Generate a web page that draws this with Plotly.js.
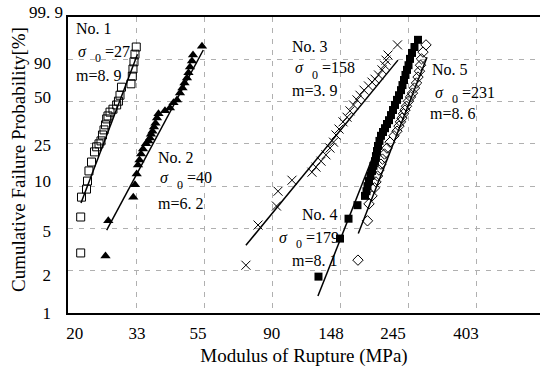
<!DOCTYPE html>
<html>
<head>
<meta charset="utf-8">
<script src="https://cdn.plot.ly/plotly-3.0.1.min.js"></script>
<style>html,body{margin:0;padding:0;background:#fff;}</style>
</head>
<body>
<div id="chart" style="width:540px;height:373px;"></div>
<script>
// ---- Data (strength in MPa, y = ln ln 1/(1-F)) ----
const no1Strength = [33.15, 32.84, 32.60, 32.36, 32.20, 31.89, 29.74, 29.42, 29.09, 28.71, 27.94, 27.34, 26.94, 26.68, 26.45, 26.16, 25.87, 25.59, 25.22, 24.79, 24.40, 23.87, 23.43, 23.18, 23.01, 22.18, 22.05, 22.05];
const no1Weibull  = [1.29, 1.12, 0.94, 0.77, 0.60, 0.42, 0.34, 0.15, 0.01, -0.08, -0.18, -0.25, -0.34, -0.41, -0.55, -0.67, -0.79, -0.93, -1.00, -1.07, -1.19, -1.43, -1.64, -1.88, -2.07, -2.26, -2.73, -3.58];

const no2Strength = [53.69, 50.26, 49.89, 49.16, 48.62, 48.09, 47.22, 46.53, 45.68, 44.69, 43.56, 42.45, 40.92, 39.02, 38.59, 38.17, 37.75, 37.34, 36.93, 36.66, 36.26, 35.60, 34.83, 34.32, 33.94, 33.57, 33.25, 32.84, 32.43, 27.00, 26.45];
const no2Weibull  = [1.31, 1.10, 0.96, 0.82, 0.68, 0.56, 0.44, 0.32, 0.20, 0.04, -0.03, -0.15, -0.22, -0.29, -0.39, -0.51, -0.60, -0.70, -0.77, -0.86, -0.93, -1.00, -1.12, -1.24, -1.38, -1.50, -1.71, -1.97, -2.26, -2.82, -3.65];

const no3Strength = [225.3, 210.2, 207.1, 204.8, 201.1, 196.0, 191.0, 186.9, 182.1, 176.2, 171.1, 167.4, 163.2, 159.0, 155.6, 151.1, 146.7, 143.5, 140.9, 137.3, 133.3, 128.6, 123.9, 120.3, 103.9, 93.8, 92.7, 81.0, 74.1];
const no3Weibull  = [1.34, 1.10, 0.98, 0.86, 0.75, 0.63, 0.53, 0.46, 0.37, 0.27, 0.15, 0.04, -0.08, -0.22, -0.37, -0.48, -0.65, -0.79, -0.96, -1.10, -1.26, -1.41, -1.55, -1.67, -1.86, -2.12, -2.47, -2.92, -3.87];

const no4Strength = [261.9, 255.2, 250.6, 247.0, 244.3, 241.6, 238.9, 236.3, 233.7, 231.2, 227.8, 224.5, 221.2, 218.0, 214.8, 211.7, 208.6, 205.6, 202.6, 199.6, 197.4, 195.3, 193.9, 192.4, 191.0, 188.9, 186.9, 184.8, 182.8, 180.8, 179.5, 177.5, 168.0, 157.3, 147.8, 126.2];
const no4Weibull  = [1.46, 1.29, 1.15, 1.01, 0.86, 0.75, 0.63, 0.51, 0.39, 0.27, 0.15, 0.04, -0.08, -0.20, -0.32, -0.44, -0.53, -0.63, -0.72, -0.81, -0.93, -1.05, -1.17, -1.29, -1.41, -1.52, -1.64, -1.76, -1.88, -2.00, -2.12, -2.23, -2.45, -2.77, -3.24, -4.14];

const no5Strength = [277.7, 271.7, 268.7, 266.8, 264.8, 261.9, 259.1, 255.2, 251.5, 247.9, 244.3, 240.7, 238.1, 235.5, 232.9, 230.3, 227.8, 224.5, 219.6, 213.3, 208.6, 204.8, 201.8, 199.6, 196.7, 194.6, 192.4, 190.3, 186.9, 182.8, 180.8, 168.6];
const no5Weibull  = [1.34, 1.17, 1.01, 0.86, 0.72, 0.58, 0.44, 0.32, 0.20, 0.11, 0.01, -0.11, -0.20, -0.29, -0.39, -0.48, -0.58, -0.70, -0.81, -0.96, -1.10, -1.24, -1.36, -1.48, -1.62, -1.76, -1.90, -2.04, -2.23, -2.42, -2.82, -3.75];

// fitted Weibull lines (end points as drawn)
const fit1Strength = [22.10, 33.45];  const fit1Weibull = [-2.40, 1.12];
const fit2Strength = [26.68, 54.20];  const fit2Weibull = [-3.04, 1.22];
const fit3Strength = [74.1, 226.1];   const fit3Weibull = [-3.40, 0.98];
const fit4Strength = [125.7, 256.2];  const fit4Weibull = [-4.60, 1.22];
const fit5Strength = [169.0, 279.8];  const fit5Weibull = [-3.12, 1.05];

const seriesNames = ['No. 1', 'No. 2', 'No. 3', 'No. 4', 'No. 5'];
const sigma0Values = ['27', '40', '158', '179', '231'];
const mValues = ['8. 9', '6. 2', '3. 9', '8. 1', '8. 6'];

const xGridVals = [20.09, 33.12, 54.60, 90.02, 148.41, 244.69, 403.43];
const xTickText = ['20', '33', '55', '90', '148', '245', '403'];
const yGridVals = [-5, -4, -3, -2, -1, 0, 1, 2];
const yTickText = ['1', '2', '5', '10', '25', '50', '90'];
const yTopLabel = '99. 9';
const xRange = [20.09, 641.0];
const yRange = [-5, 2];

// ---- Traces ----
const markerLine = {color: '#000', width: 1};
const traces = [
  {x: no1Strength, y: no1Weibull, mode: 'markers', type: 'scatter', name: seriesNames[0],
   marker: {symbol: 'square-open', size: 8, color: '#000', line: markerLine}},
  {x: no2Strength, y: no2Weibull, mode: 'markers', type: 'scatter', name: seriesNames[1],
   marker: {symbol: 'triangle-up', size: 9, color: '#000'}},
  {x: no3Strength, y: no3Weibull, mode: 'markers', type: 'scatter', name: seriesNames[2],
   marker: {symbol: 'x-thin', size: 9, color: '#000', line: {color: '#000', width: 1}}},
  {x: no4Strength, y: no4Weibull, mode: 'markers', type: 'scatter', name: seriesNames[3],
   marker: {symbol: 'square', size: 8, color: '#000'}},
  {x: no5Strength, y: no5Weibull, mode: 'markers', type: 'scatter', name: seriesNames[4],
   marker: {symbol: 'diamond-open', size: 8, color: '#000', line: markerLine}},
];
const fits = [[fit1Strength, fit1Weibull], [fit2Strength, fit2Weibull], [fit3Strength, fit3Weibull],
              [fit4Strength, fit4Weibull], [fit5Strength, fit5Weibull]];
fits.forEach(function (f, i) {
  traces.push({x: f[0], y: f[1], mode: 'lines', type: 'scatter', name: seriesNames[i] + ' fit',
               line: {color: '#000', width: 1.5}});
});
// empty trace that activates the label axes
traces.push({x: [], y: [], xaxis: 'x2', yaxis: 'y2', mode: 'markers', type: 'scatter', hoverinfo: 'skip'});

// ---- Annotations ----
const L = 68, T = 17, W = 472, H = 296;
function ann(text, px, py, anchor, size, style) {
  return {text: text, xref: 'paper', yref: 'paper', x: (px - L) / W, y: (T + H - py) / H,
          xanchor: anchor || 'left', yanchor: 'middle', showarrow: false,
          font: {family: 'Liberation Serif, serif', size: size || 16, color: '#000', style: style || 'normal'}};
}
const labelPos = [
  [[74, 28], [76, 51], [74, 75]],
  [[156, 157], [158, 178], [156, 203]],
  [[290, 47], [293, 68], [290, 90]],
  [[300, 215], [277, 237], [290, 260]],
  [[430, 69], [433, 92], [428, 113]]
];
const annotations = [];
seriesNames.forEach(function (nm, i) {
  const p = labelPos[i];
  annotations.push(ann(nm, p[0][0], p[0][1]));
  annotations.push(ann('σ', p[1][0], p[1][1], 'left', 16, 'italic'));
  annotations.push(ann('0', p[1][0] + 22, p[1][1] + 7, 'center', 12));
  annotations.push(ann('=' + sigma0Values[i], p[1][0] + 27, p[1][1]));
  annotations.push(ann('m=' + mValues[i], p[2][0], p[2][1]));
});
annotations.push(ann(yTopLabel, 65, 12, 'right', 17));
const yTitle = ann('Cumulative Failure Probability[%]', 18, 160, 'center', 19);
yTitle.textangle = -90;
annotations.push(yTitle);

// where the reference prints each tick label (slightly off its grid line)
const xLabelAt = [21.1, 33.3, 52.1, 89.5, 138.3, 218.0, 372.5];
const yLabelAt = [-5, -4.10, -3.07, -1.88, -1.02, 0.10, 0.92];

const gridStyle = {showgrid: true, gridcolor: '#b0b0b0', gridwidth: 1, griddash: '5px,6px'};
const logRange = [Math.log10(xRange[0]), Math.log10(xRange[1])];
const layout = {
  width: 540, height: 373,
  margin: {l: L, r: 0, t: T, b: 373 - T - H},
  paper_bgcolor: '#fff', plot_bgcolor: '#fff',
  showlegend: false,
  font: {family: 'Liberation Serif, DejaVu Serif, serif', color: '#000', size: 17},
  xaxis: Object.assign({
    type: 'log', range: logRange,
    tickmode: 'array', tickvals: xGridVals, showticklabels: false,
    showline: true, linecolor: '#000', linewidth: 2, mirror: true,
    zeroline: false, ticks: ''
  }, gridStyle),
  xaxis2: {
    type: 'log', range: logRange, overlaying: 'x', anchor: 'y', side: 'bottom',
    tickmode: 'array', tickvals: xLabelAt, ticktext: xTickText,
    showgrid: false, showline: false, zeroline: false, ticks: '', ticklabelstandoff: 8,
    title: {text: 'Modulus of Rupture (MPa)', font: {size: 19}, standoff: 6}
  },
  yaxis: Object.assign({
    range: yRange, tickmode: 'array', tickvals: yGridVals, showticklabels: false,
    showline: true, linecolor: '#000', linewidth: 2, mirror: false,
    zeroline: false, ticks: ''
  }, gridStyle),
  yaxis2: {
    range: yRange, overlaying: 'y', anchor: 'x', side: 'left',
    tickmode: 'array', tickvals: yLabelAt, ticktext: yTickText,
    showgrid: false, showline: false, zeroline: false, ticks: '', ticklabelstandoff: 16
  },
  annotations: annotations
};

Plotly.newPlot('chart', traces, layout, {staticPlot: true, displayModeBar: false});
</script>
</body>
</html>
